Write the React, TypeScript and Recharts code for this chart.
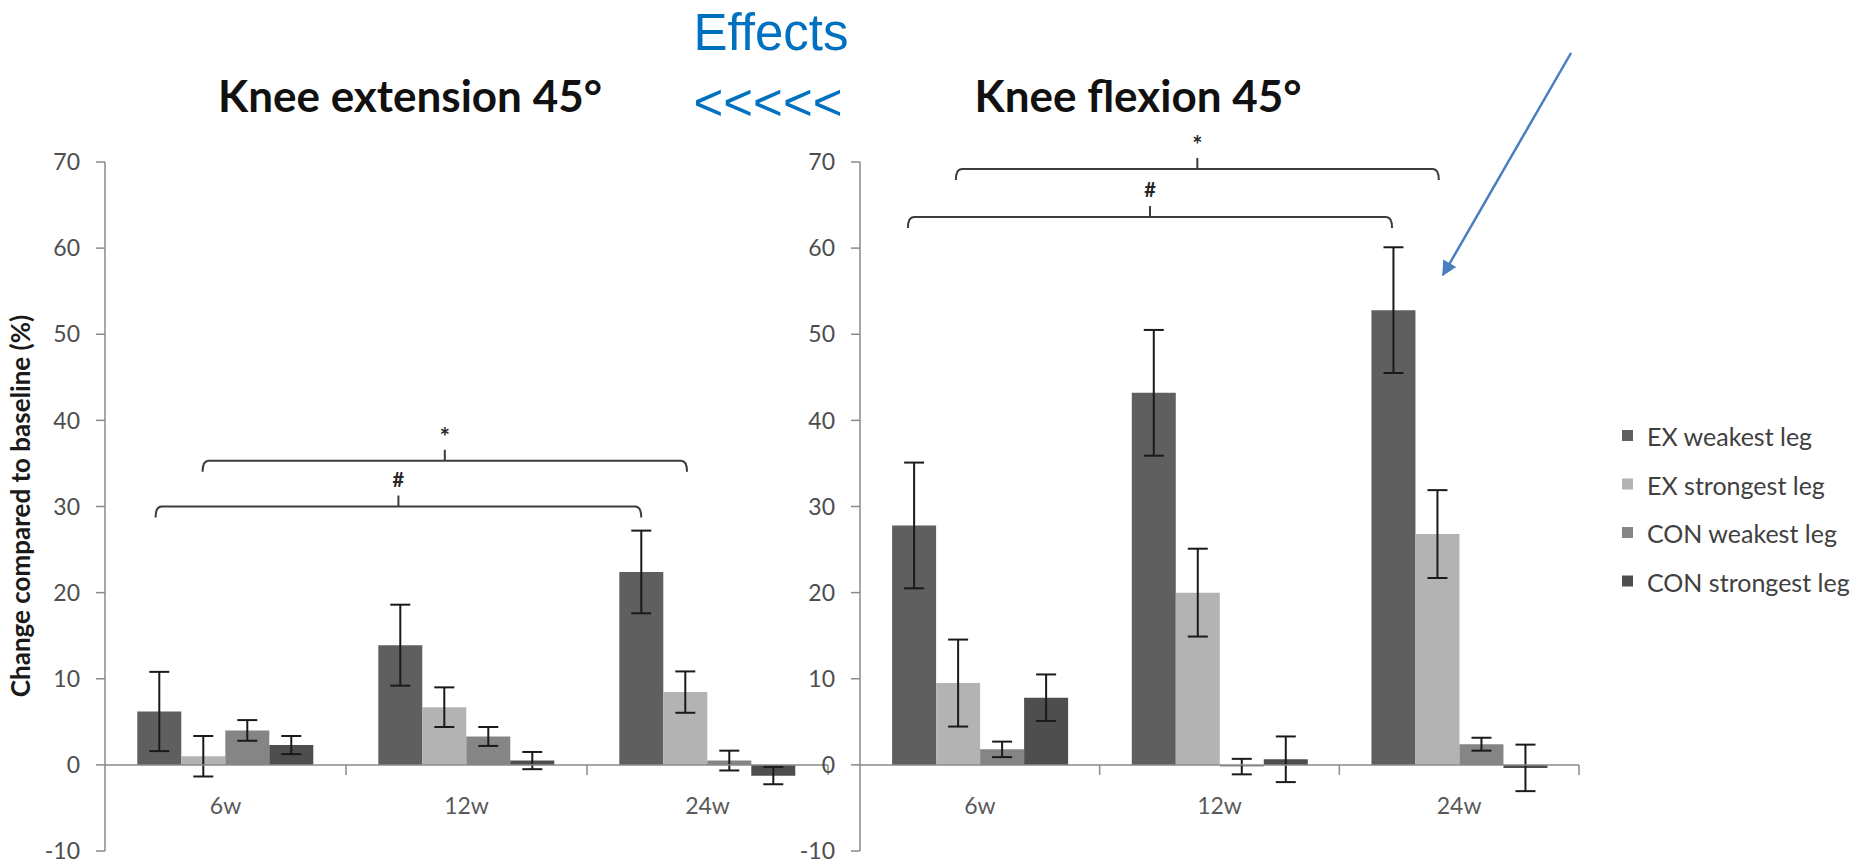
import React from "react";
import { BarChart, Bar, XAxis, YAxis, ErrorBar, ReferenceLine } from "recharts";

const categories = ["6w", "12w", "24w"];
const yTicks = [-10, 0, 10, 20, 30, 40, 50, 60, 70];
const seriesNames = ["EX weakest leg", "EX strongest leg", "CON weakest leg", "CON strongest leg"];
const seriesColors = ["#5f5f5f", "#b3b3b3", "#858585", "#4e4e4e"];

// Knee extension 45°: mean change compared to baseline (%) and error per time point
const extExWeakest = [6.2, 13.9, 22.4];
const extExWeakestErr = [4.6, 4.7, 4.8];
const extExStrongest = [1.0, 6.7, 8.45];
const extExStrongestErr = [2.35, 2.3, 2.4];
const extConWeakest = [4.0, 3.3, 0.5];
const extConWeakestErr = [1.2, 1.1, 1.15];
const extConStrongest = [2.3, 0.5, -1.25];
const extConStrongestErr = [1.05, 1.0, 1.0];

// Knee flexion 45°
const flexExWeakest = [27.8, 43.2, 52.8];
const flexExWeakestErr = [7.3, 7.3, 7.3];
const flexExStrongest = [9.5, 20.0, 26.8];
const flexExStrongestErr = [5.05, 5.1, 5.1];
const flexConWeakest = [1.8, -0.2, 2.4];
const flexConWeakestErr = [0.9, 0.9, 0.75];
const flexConStrongest = [7.8, 0.65, -0.35];
const flexConStrongestErr = [2.7, 2.65, 2.7];

// Significance brackets: span on the category scale (0 = start of 6w, 3 = end of 24w), level in %
const extBrackets = [
  { mark: "#", from: 0.21, to: 2.225, level: 30 },
  { mark: "*", from: 0.405, to: 2.415, level: 35.3 },
];
const flexBrackets = [
  { mark: "#", from: 0.2, to: 2.22, level: 63.6 },
  { mark: "*", from: 0.4, to: 2.415, level: 69.2 },
];
// Tick marks on the category axis sit between the time points
const categoryEdges = [1, 2, 3];

const FONT = "Lato, 'Open Sans', sans-serif";
const AXIS_GREY = "#8a8a8a";

function buildRows(values: number[][], errors: number[][]) {
  return categories.map((cat, i) => {
    const row: Record<string, string | number> = { cat };
    values.forEach((v, s) => {
      row[`v${s}`] = v[i];
      row[`e${s}`] = errors[s][i];
    });
    return row;
  });
}

const extRows = buildRows(
  [extExWeakest, extExStrongest, extConWeakest, extConStrongest],
  [extExWeakestErr, extExStrongestErr, extConWeakestErr, extConStrongestErr]
);
const flexRows = buildRows(
  [flexExWeakest, flexExStrongest, flexConWeakest, flexConStrongest],
  [flexExWeakestErr, flexExStrongestErr, flexConWeakestErr, flexConStrongestErr]
);

// Category axis drawn along the zero line: the segment runs from the first to the
// last category centre, so the band width follows from its length.
const ZeroCategoryAxis = (props: any) => {
  const { x1, y1, x2 } = props;
  const bw = (x2 - x1) / (categories.length - 1);
  const left = x1 - bw / 2;
  const right = x2 + bw / 2;
  return (
    <g>
      <line x1={left} y1={y1} x2={right} y2={y1} stroke={AXIS_GREY} strokeWidth={1.5} />
      {categoryEdges.map((e) => (
        <line key={e} x1={left + e * bw} y1={y1} x2={left + e * bw} y2={y1 + 10} stroke={AXIS_GREY} strokeWidth={1.5} />
      ))}
      {categories.map((c, i) => (
        <text
          key={c}
          x={x1 + i * bw}
          y={y1 + 40}
          textAnchor="middle"
          dominantBaseline="central"
          fontFamily={FONT}
          fontSize={23}
          fill="#595959"
        >
          {c}
        </text>
      ))}
    </g>
  );
};

const Bracket = (props: any) => {
  const { x1, y1, x2, mark, from, to } = props;
  const bw = (x2 - x1) / (categories.length - 1);
  const left = x1 - bw / 2;
  const a = left + from * bw;
  const b = left + to * bw;
  const h = 11;
  const xm = (a + b) / 2;
  const d =
    `M${a},${y1 + h} Q${a},${y1} ${a + 6},${y1} L${b - 6},${y1} Q${b},${y1} ${b},${y1 + h} ` +
    `M${xm},${y1} L${xm},${y1 - h}`;
  return (
    <g>
      <path d={d} fill="none" stroke="#3c3c3c" strokeWidth={2} />
      <text
        x={xm}
        y={mark === "*" ? y1 - 24 : y1 - 28}
        textAnchor="middle"
        dominantBaseline="central"
        fontFamily={FONT}
        fontWeight={700}
        fontSize={mark === "*" ? 24 : 20}
        fill="#262626"
      >
        {mark}
      </text>
    </g>
  );
};

type PanelProps = {
  rows: Record<string, string | number>[];
  brackets: { mark: string; from: number; to: number; level: number }[];
  width: number;
  yAxisWidth: number;
  marginRight: number;
};

function Panel({ rows, brackets, width, yAxisWidth, marginRight }: PanelProps) {
  const first = categories[0];
  const last = categories[categories.length - 1];
  return (
    <BarChart
      width={width}
      height={866}
      data={rows}
      margin={{ top: 162, right: marginRight, bottom: 15, left: 0 }}
      barCategoryGap="13.4%"
      barGap={0}
    >
      <XAxis dataKey="cat" hide />
      <YAxis
        type="number"
        domain={[-10, 70]}
        ticks={yTicks}
        interval={0}
        width={yAxisWidth}
        tickSize={9}
        tickMargin={16}
        axisLine={{ stroke: AXIS_GREY, strokeWidth: 1.5 }}
        tickLine={{ stroke: AXIS_GREY, strokeWidth: 1.5 }}
        tick={{ fill: "#4d4d4d", fontSize: 23, fontFamily: FONT }}
      />
      {seriesNames.map((name, s) => (
        <Bar key={name} dataKey={`v${s}`} name={name} fill={seriesColors[s]} isAnimationActive={false}>
          <ErrorBar dataKey={`e${s}`} width={10} strokeWidth={2} stroke="#1a1a1a" isAnimationActive={false} />
        </Bar>
      ))}
      <ReferenceLine
        segment={[
          { x: first, y: 0 },
          { x: last, y: 0 },
        ]}
        shape={(p: any) => <ZeroCategoryAxis {...p} />}
      />
      {brackets.map((b) => (
        <ReferenceLine
          key={b.mark}
          segment={[
            { x: first, y: b.level },
            { x: last, y: b.level },
          ]}
          shape={(p: any) => <Bracket {...p} mark={b.mark} from={b.from} to={b.to} />}
        />
      ))}
    </BarChart>
  );
}

export default function App() {
  return (
    <div
      style={{
        position: "fixed",
        left: 0,
        top: 0,
        width: 1864,
        height: 866,
        background: "#ffffff",
        overflow: "hidden",
      }}
    >
      <div style={{ position: "absolute", left: 0, top: 0 }}>
        <Panel rows={extRows} brackets={extBrackets} width={840} yAxisWidth={105} marginRight={12} />
      </div>
      <div style={{ position: "absolute", left: 760, top: 0 }}>
        <Panel rows={flexRows} brackets={flexBrackets} width={1104} yAxisWidth={100} marginRight={285} />
      </div>
      <svg
        width={1864}
        height={866}
        style={{ position: "absolute", left: 0, top: 0, pointerEvents: "none" }}
      >
        <defs>
          <marker id="arrowHead" viewBox="0 0 10 10" refX="9" refY="5" markerWidth="8" markerHeight="6" orient="auto-start-reverse">
            <path d="M0,0 L10,5 L0,10 z" fill="#4a7ebf" />
          </marker>
        </defs>
        <text x={771} y={50} textAnchor="middle" fontFamily="'Liberation Sans', Arial, sans-serif" fontSize={51} fill="#0070c0">
          Effects
        </text>
        <text x={768} y={120} textAnchor="middle" fontFamily="'Liberation Sans', Arial, sans-serif" fontSize={51} fill="#0070c0">
          {"<<<<<"}
        </text>
        <text x={410} y={112} textAnchor="middle" fontFamily={FONT} fontWeight={700} fontSize={44} fill="#111111">
          Knee extension 45°
        </text>
        <text x={1138} y={112} textAnchor="middle" fontFamily={FONT} fontWeight={700} fontSize={44} fill="#111111">
          Knee flexion 45°
        </text>
        <text
          x={20}
          y={506}
          transform="rotate(-90, 20, 506)"
          textAnchor="middle"
          dominantBaseline="central"
          fontFamily={FONT}
          fontWeight={700}
          fontSize={26}
          fill="#1a1a1a"
        >
          Change compared to baseline (%)
        </text>
        <line x1={1571} y1={53} x2={1443} y2={275} stroke="#4a7ebf" strokeWidth={2.5} markerEnd="url(#arrowHead)" />
        {seriesNames.map((name, s) => (
          <g key={name}>
            <rect x={1622} y={430 + s * 48.5} width={11} height={11} fill={seriesColors[s]} />
            <text x={1647} y={436 + s * 48.5} dominantBaseline="central" fontFamily={FONT} fontSize={25} fill="#404040">
              {name}
            </text>
          </g>
        ))}
      </svg>
    </div>
  );
}
